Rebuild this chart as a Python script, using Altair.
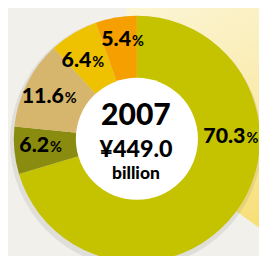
import altair as alt
import pandas as pd
import numpy as np

# ---- data ----
shares = [70.3, 6.2, 11.6, 6.4, 5.4]
labels = ["70.3", "6.2", "11.6", "6.4", "5.4"]
colors = ["#c5c200", "#8a8c10", "#d6b66c", "#eec200", "#f5a000"]
center_year = ["2007"]
center_total = ["¥449.0"]
center_unit = ["billion"]

# ---- layout / style ----
W, H = 259, 248
CX, CY = 133, 131
R_OUT, R_IN = 127, 63
R_LABEL = 101
FONT = "Lato"
WEIGHT = 900
TWO_PI = 2 * np.pi
# nudge (dx, dy) of each label's anchor (junction of number and %) from its mid-angle point
label_nudge = {"70.3": (31, -56), "6.2": (10, 4), "11.6": (15, 8), "6.4": (5, 12), "5.4": (11, 4)}

total = sum(shares)
ends = np.cumsum(shares) / total * TWO_PI
starts = np.concatenate([[0.0], ends[:-1]])
df = pd.DataFrame({
    "label": labels,
    "share": shares,
    "start": starts,
    "end": ends,
    "mid": (starts + ends) / 2,
})
center_df = pd.DataFrame({"year": center_year, "total": center_total, "unit": center_unit})

# pale projection beam behind the donut
beam = alt.Chart(center_df).mark_arc(
    outerRadius=200, innerRadius=0, theta=TWO_PI - 0.08, theta2=TWO_PI + 2.2,
    color=alt.Gradient(gradient="linear", x1=0, y1=0, x2=0.3, y2=1,
                       stops=[alt.GradientStop(color="#fdf9e6", offset=0),
                              alt.GradientStop(color="#f9eaa8", offset=0.7),
                              alt.GradientStop(color="#f7df78", offset=1)]),
).encode(x=alt.value(CX), y=alt.value(CY))

# soft drop shadow of the donut
shadow = alt.Chart(center_df).mark_arc(
    outerRadius=R_OUT + 3, innerRadius=0, theta=0, theta2=6.2832,
    color="#6b6450", opacity=0.12,
).encode(x=alt.value(CX - 1), y=alt.value(CY + 3))

donut = alt.Chart(df).mark_arc(outerRadius=R_OUT, innerRadius=0).encode(
    x=alt.value(CX), y=alt.value(CY),
    theta=alt.Theta("start:Q", scale=None),
    theta2=alt.Theta2("end:Q"),
    color=alt.Color("label:N", scale=alt.Scale(domain=labels, range=colors), legend=None),
)

hole = alt.Chart(center_df).mark_arc(
    outerRadius=R_IN, innerRadius=0, theta=0, theta2=6.2832, color="white"
).encode(x=alt.value(CX), y=alt.value(CY))

label_layers = []
for lab in labels:
    ndx, ndy = label_nudge[lab]
    sub = alt.Chart(df).transform_filter(alt.datum.label == lab)
    label_layers.append(sub.mark_text(
        font=FONT, fontWeight=WEIGHT, fontSize=22, align="right", baseline="alphabetic",
        radius=R_LABEL, dx=ndx, dy=ndy, color="black",
    ).encode(x=alt.value(CX), y=alt.value(CY),
             theta=alt.Theta("mid:Q", scale=None), text="label:N"))
    label_layers.append(sub.mark_text(
        font=FONT, fontWeight="bold", fontSize=15, align="left", baseline="alphabetic",
        radius=R_LABEL, dx=ndx + 1, dy=ndy, color="black", text="%",
    ).encode(x=alt.value(CX), y=alt.value(CY),
             theta=alt.Theta("mid:Q", scale=None)))

c = alt.Chart(center_df)
year_t = c.mark_text(font=FONT, fontWeight=WEIGHT, fontSize=31, align="center",
                     baseline="alphabetic", color="black").encode(
    x=alt.value(CX - 1), y=alt.value(CY - 14), text="year:N")
total_t = c.mark_text(font=FONT, fontWeight=WEIGHT, fontSize=24, align="center",
                      baseline="alphabetic", color="black").encode(
    x=alt.value(CX - 1), y=alt.value(CY + 19), text="total:N")
unit_t = c.mark_text(font=FONT, fontWeight=WEIGHT, fontSize=18, align="center",
                     baseline="alphabetic", color="black").encode(
    x=alt.value(CX - 1), y=alt.value(CY + 41), text="unit:N")

chart = alt.layer(beam, shadow, donut, hole, *label_layers,
                  year_t, total_t, unit_t).properties(
    width=W, height=H,
    autosize=alt.AutoSizeParams(type="none"),
    padding=0,
    background="#f1f0eb",
).configure_view(stroke=None)

chart.save("out.html", embed_options={"renderer": "svg", "actions": False})
